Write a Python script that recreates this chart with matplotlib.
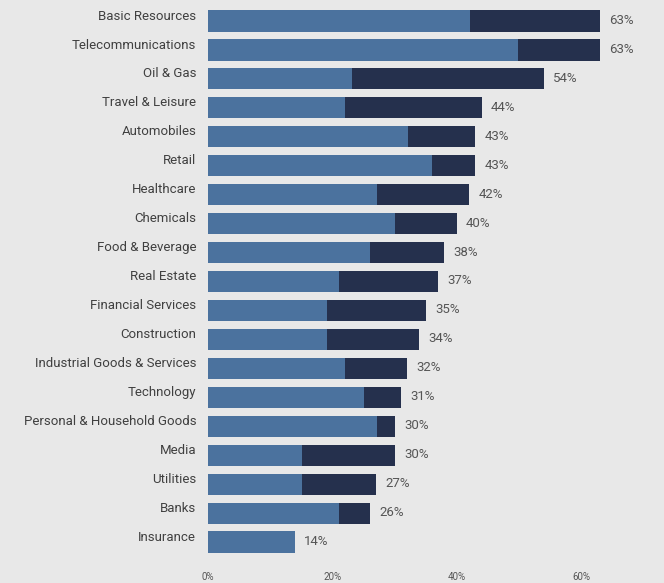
import numpy as np
import matplotlib.pyplot as plt

categories = ["Basic Resources", "Telecommunications", "Oil & Gas", "Travel & Leisure",
              "Automobiles", "Retail", "Healthcare", "Chemicals", "Food & Beverage",
              "Real Estate", "Financial Services", "Construction",
              "Industrial Goods & Services", "Technology", "Personal & Household Goods",
              "Media", "Utilities", "Banks", "Insurance"]
totals = [63, 63, 54, 44, 43, 43, 42, 40, 38, 37, 35, 34, 32, 31, 30, 30, 27, 26, 14]
light = [42.1, 49.8, 23.2, 22.0, 32.2, 36.0, 27.2, 30.1, 26.0, 21.1, 19.1, 19.1,
         22.0, 25.1, 27.2, 15.1, 15.1, 21.1, 14.0]
xticks = [0, 20, 40, 60]

plt.rcParams['font.family'] = ['Roboto', 'DejaVu Sans']

bg = "#e8e8e8"
c_light = "#4b729e"
c_dark = "#25304d"

fig = plt.figure(figsize=(6.64, 5.83), dpi=100, facecolor=bg)
ax = fig.add_axes([208 / 664, 23 / 583, 456 / 664, 560 / 583], facecolor=bg)

y = np.arange(len(categories))
dark = np.array(totals) - np.array(light)
ax.barh(y, light, height=0.73, color=c_light)
ax.barh(y, dark, left=light, height=0.73, color=c_dark)

for i, (cat, t) in enumerate(zip(categories, totals)):
    ax.text(-1.9, i - 0.17, cat, ha="right", va="center", fontsize=9.5, color="#404040")
    ax.text(t + 1.5, i - 0.02, f"{t}%", ha="left", va="center", fontsize=9.5, color="#555555")

ax.set_xlim(0, 456 / 6.22)
ax.set_ylim(18.62, -0.726)
ax.set_yticks([])
ax.set_xticks(xticks)
ax.set_xticklabels([f"{v}%" for v in xticks], fontsize=7, color="#555555")
ax.tick_params(axis="x", length=0, pad=9)
for s in ax.spines.values():
    s.set_visible(False)

fig.savefig("out.png", dpi=100, facecolor=bg)
